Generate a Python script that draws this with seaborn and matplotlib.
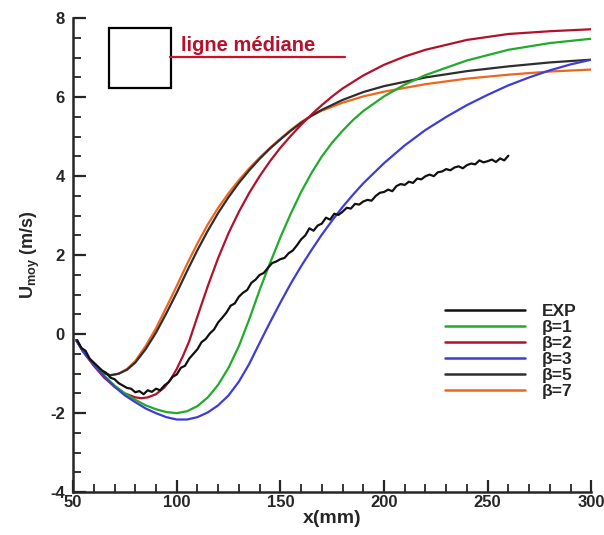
import matplotlib
matplotlib.use("Agg")
import matplotlib.pyplot as plt
import seaborn as sns
from matplotlib.lines import Line2D
from matplotlib.patches import Rectangle
from matplotlib.ticker import MultipleLocator

# %% data

# beta = 7 (orange) and beta = 5 (dark) share the same x grid
x_b57 = [51.5, 55, 60, 64, 68, 72, 76, 80, 85, 90, 95, 100, 105, 110, 115, 120,
         125, 130, 135, 140, 145, 150, 155, 160, 165, 170, 180, 190, 200, 220,
         240, 260, 280, 300]
y_b7 = [-0.15, -0.45, -0.78, -0.97, -1.04, -1.0, -0.88, -0.68, -0.3, 0.15, 0.68, 1.22,
        1.78, 2.3, 2.78, 3.2, 3.57, 3.9, 4.2, 4.47, 4.72, 4.95, 5.17, 5.37, 5.53,
        5.66, 5.86, 6.02, 6.14, 6.33, 6.47, 6.57, 6.65, 6.7]
y_b5 = [-0.15, -0.45, -0.78, -0.97, -1.04, -1.0, -0.9, -0.72, -0.38, 0.04, 0.53, 1.05,
        1.6, 2.13, 2.62, 3.07, 3.47, 3.83, 4.15, 4.44, 4.7, 4.93, 5.15, 5.35, 5.53,
        5.68, 5.93, 6.13, 6.28, 6.5, 6.66, 6.78, 6.88, 6.95]

x_b2 = [51.5, 55, 60, 65, 70, 75, 80, 83, 86, 90, 94, 97, 100, 103, 106, 110, 115,
        120, 125, 130, 135, 140, 145, 150, 155, 160, 165, 170, 175, 180, 190, 200,
        210, 220, 240, 260, 280, 300]
y_b2 = [-0.15, -0.45, -0.8, -1.1, -1.33, -1.5, -1.6, -1.62, -1.6, -1.52, -1.35, -1.15,
        -0.88, -0.55, -0.18, 0.45, 1.22, 1.93, 2.56, 3.1, 3.58, 4.0, 4.38, 4.72, 5.02,
        5.3, 5.56, 5.8, 6.02, 6.22, 6.55, 6.82, 7.03, 7.2, 7.45, 7.6, 7.67, 7.72]

x_b1 = [51.5, 55, 60, 65, 70, 75, 80, 85, 90, 95, 100, 105, 110, 115, 120, 125, 130,
        135, 140, 145, 150, 155, 160, 165, 170, 175, 180, 185, 190, 200, 210, 220,
        240, 260, 280, 300]
y_b1 = [-0.15, -0.45, -0.76, -1.05, -1.3, -1.5, -1.66, -1.8, -1.9, -1.97, -2.0, -1.95,
        -1.82, -1.6, -1.28, -0.85, -0.3, 0.38, 1.12, 1.8, 2.45, 3.05, 3.6, 4.08, 4.5,
        4.85, 5.15, 5.42, 5.65, 6.02, 6.32, 6.56, 6.93, 7.2, 7.37, 7.48]

x_b3 = [51.5, 55, 60, 65, 70, 75, 80, 85, 90, 95, 100, 105, 110, 115, 120, 125, 130,
        135, 140, 145, 150, 155, 160, 165, 170, 175, 180, 185, 190, 200, 210, 220,
        230, 240, 250, 260, 270, 280, 290, 300]
y_b3 = [-0.15, -0.45, -0.77, -1.07, -1.33, -1.55, -1.72, -1.88, -2.0, -2.1, -2.16,
        -2.16, -2.1, -1.98, -1.8, -1.55, -1.2, -0.75, -0.22, 0.3, 0.8, 1.28, 1.72,
        2.13, 2.52, 2.88, 3.22, 3.53, 3.82, 4.33, 4.78, 5.17, 5.5, 5.8, 6.06, 6.3,
        6.5, 6.68, 6.83, 6.95]

# experiment, every 2 mm
x_exp = list(range(52, 262, 2))
y_exp = [-0.15, -0.35, -0.42, -0.62, -0.72, -0.82, -0.92, -0.98, -1.1, -1.14,
         -1.24, -1.3, -1.36, -1.38, -1.47, -1.44, -1.52, -1.42, -1.46, -1.38,
         -1.42, -1.3, -1.22, -1.08, -1.02, -0.85, -0.8, -0.62, -0.5, -0.38,
         -0.2, -0.12, 0.02, 0.12, 0.3, 0.42, 0.55, 0.72, 0.78, 0.95,
         1.05, 1.12, 1.3, 1.38, 1.5, 1.55, 1.68, 1.8, 1.84, 1.9,
         1.93, 2.05, 2.12, 2.25, 2.4, 2.5, 2.68, 2.62, 2.75, 2.8,
         2.95, 2.9, 3.05, 3.02, 3.1, 3.2, 3.18, 3.3, 3.28, 3.36,
         3.4, 3.38, 3.5, 3.58, 3.6, 3.66, 3.62, 3.75, 3.8, 3.78,
         3.86, 3.83, 3.94, 3.92, 4.0, 4.04, 4.0, 4.1, 4.12, 4.18,
         4.15, 4.22, 4.25, 4.2, 4.28, 4.32, 4.3, 4.4, 4.35, 4.38,
         4.42, 4.36, 4.45, 4.4, 4.52]

labels = ["EXP", "β=1", "β=2", "β=3", "β=5", "β=7"]
colors = ["#111111", "#22aa2a", "#b3102c", "#3d3dd6", "#2e2e2e", "#f0651e"]

# %%
sns.set_style("ticks")
plt.rcParams["font.family"] = ["Liberation Sans", "DejaVu Sans"]
plt.rcParams["font.weight"] = "bold"
plt.rcParams["axes.unicode_minus"] = False
plt.rcParams["mathtext.fontset"] = "custom"
plt.rcParams["mathtext.bf"] = "Liberation Sans:bold"
plt.rcParams["mathtext.rm"] = "Liberation Sans:bold"

fig = plt.figure(figsize=(6.04, 5.35), dpi=100)
ax = fig.add_axes([0.121, 0.080, 0.858, 0.886])

series = [(x_exp, y_exp), (x_b1, y_b1), (x_b2, y_b2), (x_b3, y_b3),
          (x_b57, y_b5), (x_b57, y_b7)]
# draw order: betas first, experiment on top
for i in [5, 4, 2, 1, 3, 0]:
    xs, ys = series[i]
    sns.lineplot(x=xs, y=ys, color=colors[i], lw=1.6, ax=ax, sort=False,
                 estimator=None, legend=False)

ax.set_xlim(50, 300)
ax.set_ylim(-4, 8)
ax.xaxis.set_major_locator(MultipleLocator(50))
ax.xaxis.set_minor_locator(MultipleLocator(10))
ax.yaxis.set_major_locator(MultipleLocator(2))
ax.yaxis.set_minor_locator(MultipleLocator(0.5))
ax.tick_params(which="major", direction="in", length=9, width=1.6, labelsize=12)
ax.tick_params(which="minor", direction="in", length=5.5, width=1.3)
ax.tick_params(axis="x", pad=2)
ax.tick_params(axis="y", pad=6)
for s in ["left", "bottom"]:
    ax.spines[s].set_linewidth(1.8)
sns.despine(ax=ax)

ax.set_xlabel("x(mm)", fontsize=14, fontweight="bold", labelpad=0)
ax.set_ylabel(r"U$_{\mathbf{moy}}$ (m/s)", fontsize=13, fontweight="bold", labelpad=6)

# inset box and median-line label
ax.add_patch(Rectangle((67.4, 6.23), 29.8, 1.53, fill=False, ec="black", lw=1.6))
ax.plot([96.8, 181.3], [7.02, 7.02], color="#d0102a", lw=1.6)
ax.text(102.0, 7.17, "ligne médiane", color="#b8102a", fontsize=14.5,
        fontweight="bold", ha="left", va="baseline")

handles = [Line2D([], [], color=c, lw=1.8) for c in colors]
ax.legend(handles, labels, loc="upper left", bbox_to_anchor=(0.718, 0.398),
          frameon=False, fontsize=12.5, handlelength=4.6, handletextpad=0.95,
          labelspacing=0.05, borderpad=0, borderaxespad=0)

fig.savefig("out.png", dpi=100)
